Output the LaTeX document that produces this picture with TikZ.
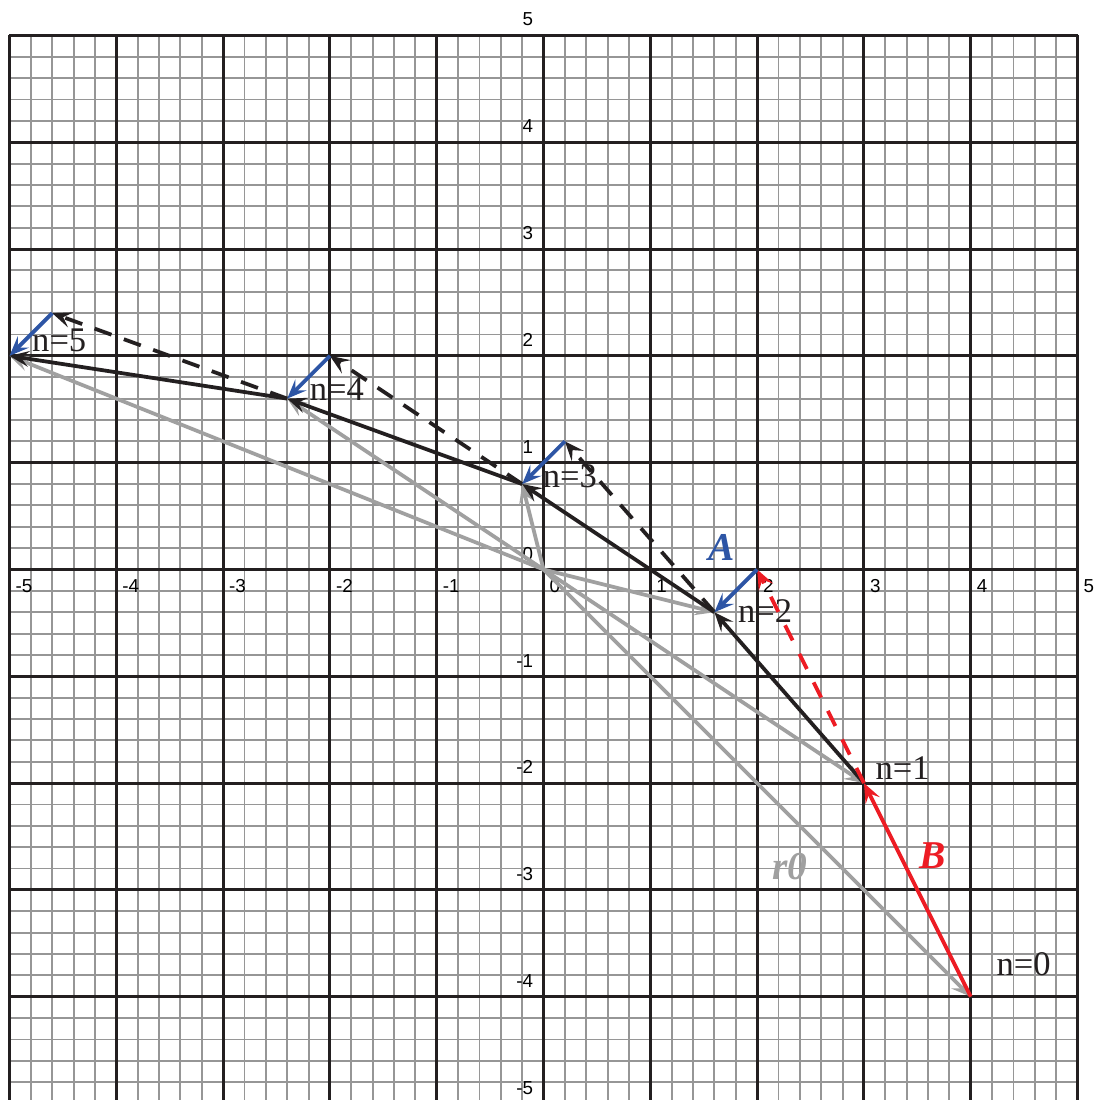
\documentclass[tikz,border=0pt]{standalone}
\usepackage{fontspec}
\setmainfont{Liberation Serif}
\newfontfamily\axfont{Liberation Sans}
\usetikzlibrary{arrows.meta}
\definecolor{gridblack}{RGB}{35,31,32}
\definecolor{minorgrey}{RGB}{150,150,150}
\definecolor{vecgrey}{RGB}{160,160,160}
\definecolor{vecblue}{RGB}{45,85,165}
\definecolor{vecred}{RGB}{237,28,36}
\tikzset{
  tipped/.style={-{Stealth[length=5.2pt,width=4.2pt,inset=2.1pt]}},
  minorgrid/.style={draw=minorgrey,line width=0.5pt},
  majorgrid/.style={draw=gridblack,line width=0.8pt},
  axlab/.style={inner sep=0pt,font=\axfont\fontsize{5}{6}\selectfont},
  nlab/.style={inner sep=0pt,anchor=base west,font=\fontsize{9.2}{10}\selectfont,text=gridblack},
  veclab/.style={inner sep=0pt,anchor=base,font=\fontsize{10.5}{11}\selectfont\bfseries\itshape},
  greyvec/.style={tipped,draw=vecgrey,line width=1pt},
  blackvec/.style={tipped,draw=gridblack,line width=1pt},
  blackdash/.style={tipped,draw=gridblack,line width=1pt,dash pattern=on 4.8pt off 3.5pt},
  redvec/.style={tipped,draw=vecred,line width=1pt},
  reddash/.style={tipped,draw=vecred,line width=1pt,dash pattern=on 4.5pt off 4pt},
  bluevec/.style={tipped,draw=vecblue,line width=1pt},
}
\begin{document}
\begin{tikzpicture}
\useasboundingbox[fill=white] (-5.089,-4.967) rectangle (5.192,5.332);
% grid
\draw[minorgrid] (-5,-5) grid[step=0.2] (5,5);
\draw[majorgrid] (-5,-5) grid[step=1] (5,5);
% axis labels
\foreach \x in {-5,...,5}
  \node[axlab,anchor=north west] (xl\x) at (\x+0.05,-0.09) {\x};
\foreach \y in {-5,...,5}
  \node[axlab,anchor=south east] (yl\y) at (-0.09,\y+0.08) {\y};
% points
\coordinate (O) at (0,0);
\coordinate (P0) at (4,-4);
\coordinate (P1) at (3,-2);
\coordinate (Q1) at (2,0);
\coordinate (P2) at (1.6,-0.4);
\coordinate (Q2) at (0.2,1.2);
\coordinate (P3) at (-0.2,0.8);
\coordinate (Q3) at (-2,2);
\coordinate (P4) at (-2.4,1.6);
\coordinate (Q4) at (-4.6,2.4);
\coordinate (P5) at (-5,2);
% grey position vectors
\foreach \p in {P0,P1,P2,P3,P4,P5}
  \draw[greyvec] (O) -- (\p);
% black path
\draw[blackvec] (P1) -- (P2);
\draw[blackvec] (P2) -- (P3);
\draw[blackvec] (P3) -- (P4);
\draw[blackvec] (P4) -- (P5);
% dashed repeats
\draw[blackdash] (P2) -- (Q2);
\draw[blackdash] (P3) -- (Q3);
\draw[blackdash] (P4) -- (Q4);
% red B
\draw[redvec] (P0) -- (P1);
\draw[reddash] (P1) -- (Q1);
% blue A
\draw[bluevec] (Q1) -- (P2);
\draw[bluevec] (Q2) -- (P3);
\draw[bluevec] (Q3) -- (P4);
\draw[bluevec] (Q4) -- (P5);
% labels
\node[nlab] (n0) at (4.234,-3.803) {n=0};
\node[nlab] (n1) at (3.103,-1.963) {n=1};
\node[nlab] (n2) at (1.815,-0.494) {n=2};
\node[nlab] (n3) at (-0.013,0.763) {n=3};
\node[nlab] (n4) at (-2.194,1.581) {n=4};
\node[nlab] (n5) at (-4.794,2.037) {n=5};
\node[veclab,text=vecblue] (la) at (1.67,0.08) {A};
\node[veclab,text=vecred] (lb) at (3.642,-2.795) {B};
\node[veclab,text=vecgrey] (lr) at (2.308,-2.907) {r0};
\end{tikzpicture}
\end{document}
